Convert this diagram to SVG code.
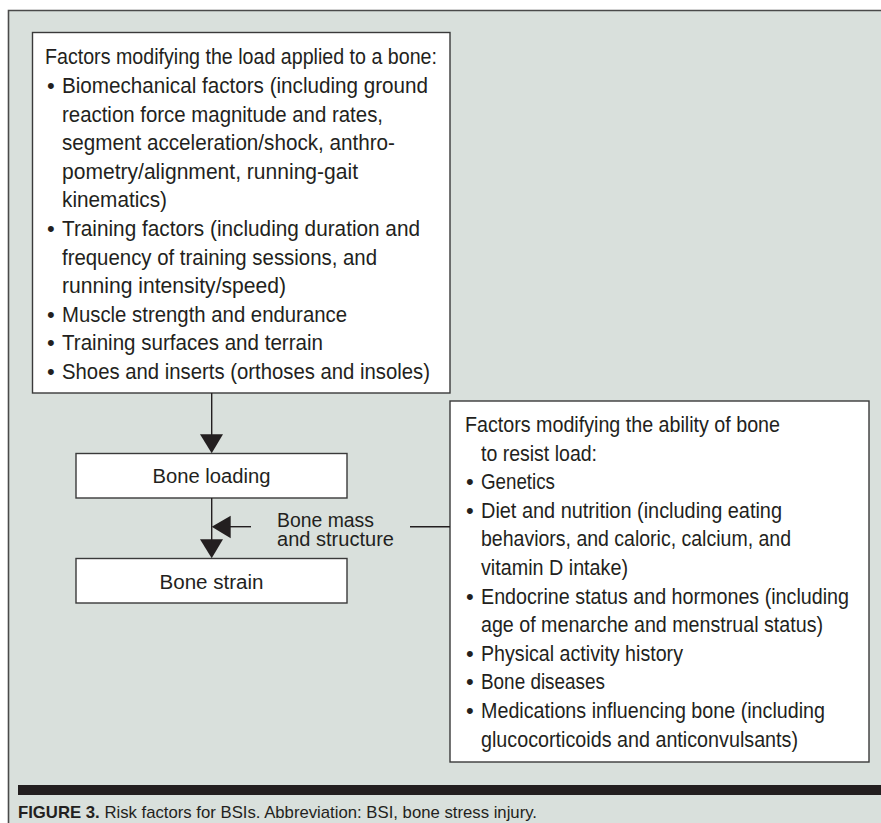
<svg xmlns="http://www.w3.org/2000/svg" width="881" height="823" viewBox="0 0 881 823">
<style>
text{font-family:"Liberation Sans Narrow","Liberation Sans",Arial,sans-serif;fill:#231f20;}
.b{font-size:22px;}
.s{font-size:20px;}
.m{font-size:20.5px;}
.cap{font-size:17px;}
.box{fill:#ffffff;stroke:#3a3a3a;stroke-width:1.4;}
.ln{stroke:#231f20;stroke-width:1.4;fill:none;}
.ah{fill:#231f20;stroke:none;}
</style>
<rect x="0" y="0" width="881" height="823" fill="#ffffff"/>
<rect x="8" y="10.5" width="880" height="820" fill="#d9e0dc"/>
<path d="M8.5 823 V10.5 H881" fill="none" stroke="#4a4a4a" stroke-width="1.6"/>

<g id="load-factors">
<rect class="box" x="32.5" y="32.5" width="417.5" height="360.5"/>
<text class="b" x="45" y="64.3" textLength="392" lengthAdjust="spacingAndGlyphs">Factors modifying the load applied to a bone:</text>
<text class="b" x="47" y="92.9">•</text>
<text class="b" x="62" y="92.9" textLength="366" lengthAdjust="spacingAndGlyphs">Biomechanical factors (including ground</text>
<text class="b" x="62" y="121.5" textLength="321" lengthAdjust="spacingAndGlyphs">reaction force magnitude and rates,</text>
<text class="b" x="62" y="150.1" textLength="333" lengthAdjust="spacingAndGlyphs">segment acceleration/shock, anthro-</text>
<text class="b" x="62" y="178.7" textLength="296" lengthAdjust="spacingAndGlyphs">pometry/alignment, running-gait</text>
<text class="b" x="62" y="207.3" textLength="105" lengthAdjust="spacingAndGlyphs">kinematics)</text>
<text class="b" x="47" y="235.9">•</text>
<text class="b" x="62" y="235.9" textLength="358" lengthAdjust="spacingAndGlyphs">Training factors (including duration and</text>
<text class="b" x="62" y="264.5" textLength="315" lengthAdjust="spacingAndGlyphs">frequency of training sessions, and</text>
<text class="b" x="62" y="293.1" textLength="224" lengthAdjust="spacingAndGlyphs">running intensity/speed)</text>
<text class="b" x="47" y="321.7">•</text>
<text class="b" x="62" y="321.7" textLength="285" lengthAdjust="spacingAndGlyphs">Muscle strength and endurance</text>
<text class="b" x="47" y="350.3">•</text>
<text class="b" x="62" y="350.3" textLength="261" lengthAdjust="spacingAndGlyphs">Training surfaces and terrain</text>
<text class="b" x="47" y="378.9">•</text>
<text class="b" x="62" y="378.9" textLength="368" lengthAdjust="spacingAndGlyphs">Shoes and inserts (orthoses and insoles)</text>
</g>

<g id="bone-loading">
<rect class="box" x="76" y="453.5" width="271" height="44.5"/>
<text class="s" x="211.5" y="483" text-anchor="middle" textLength="118" lengthAdjust="spacingAndGlyphs">Bone loading</text>
</g>

<g id="bone-strain">
<rect class="box" x="76" y="558.5" width="271" height="44.5"/>
<text class="s" x="211.5" y="589" text-anchor="middle" textLength="104" lengthAdjust="spacingAndGlyphs">Bone strain</text>
</g>

<g id="bone-mass-label">
<text class="m"><tspan x="277" y="527" textLength="97" lengthAdjust="spacingAndGlyphs">Bone mass</tspan><tspan x="277" y="546" textLength="117" lengthAdjust="spacingAndGlyphs">and structure</tspan></text>
</g>

<g id="resist-factors">
<rect class="box" x="450" y="401" width="419" height="361"/>
<text class="b" x="465" y="432" textLength="315" lengthAdjust="spacingAndGlyphs">Factors modifying the ability of bone</text>
<text class="b" x="481" y="460.6" textLength="116" lengthAdjust="spacingAndGlyphs">to resist load:</text>
<text class="b" x="466" y="489.2">•</text>
<text class="b" x="481" y="489.2" textLength="74" lengthAdjust="spacingAndGlyphs">Genetics</text>
<text class="b" x="466" y="517.8">•</text>
<text class="b" x="481" y="517.8" textLength="301" lengthAdjust="spacingAndGlyphs">Diet and nutrition (including eating</text>
<text class="b" x="481" y="546.4" textLength="310" lengthAdjust="spacingAndGlyphs">behaviors, and caloric, calcium, and</text>
<text class="b" x="481" y="575" textLength="147" lengthAdjust="spacingAndGlyphs">vitamin D intake)</text>
<text class="b" x="466" y="603.6">•</text>
<text class="b" x="481" y="603.6" textLength="368" lengthAdjust="spacingAndGlyphs">Endocrine status and hormones (including</text>
<text class="b" x="481" y="632.2" textLength="342" lengthAdjust="spacingAndGlyphs">age of menarche and menstrual status)</text>
<text class="b" x="466" y="660.8">•</text>
<text class="b" x="481" y="660.8" textLength="202" lengthAdjust="spacingAndGlyphs">Physical activity history</text>
<text class="b" x="466" y="689.4">•</text>
<text class="b" x="481" y="689.4" textLength="124" lengthAdjust="spacingAndGlyphs">Bone diseases</text>
<text class="b" x="466" y="718">•</text>
<text class="b" x="481" y="718" textLength="344" lengthAdjust="spacingAndGlyphs">Medications influencing bone (including</text>
<text class="b" x="481" y="746.6" textLength="317" lengthAdjust="spacingAndGlyphs">glucocorticoids and anticonvulsants)</text>
</g>

<g id="connectors">
<line class="ln" x1="211.7" y1="393" x2="211.7" y2="436"/>
<polygon class="ah" points="200,434.3 223,434.3 211.7,453.3"/>
<line class="ln" x1="211.7" y1="498" x2="211.7" y2="541"/>
<polygon class="ah" points="200,539.3 223,539.3 211.7,558.3"/>
<line class="ln" x1="229" y1="526.7" x2="251" y2="526.7"/>
<polygon class="ah" points="211.7,526.7 230.7,515.7 230.7,538.3"/>
<line class="ln" x1="410" y1="526.7" x2="450" y2="526.7"/>
</g>

<g id="caption">
<rect x="18" y="785" width="863" height="10" fill="#231f20"/>
<text class="cap" x="18" y="817.5" textLength="519" lengthAdjust="spacingAndGlyphs"><tspan font-weight="bold">FIGURE 3.</tspan> Risk factors for BSIs. Abbreviation: BSI, bone stress injury.</text>
</g>
</svg>
